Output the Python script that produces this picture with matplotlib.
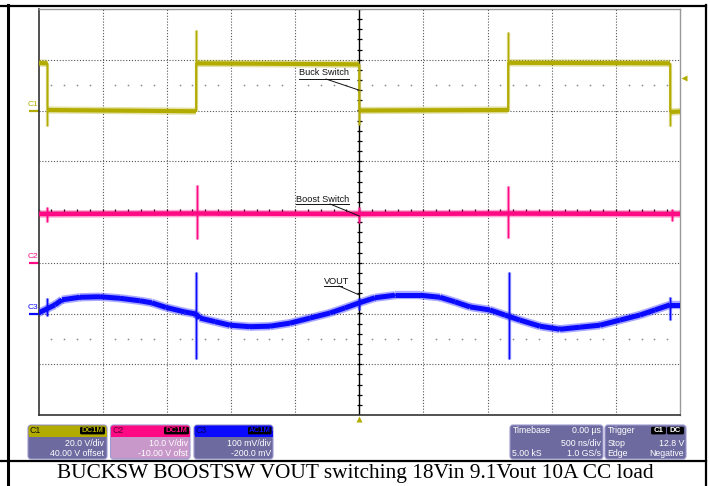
import matplotlib
matplotlib.use('Agg')
import matplotlib.pyplot as plt
from matplotlib.patches import FancyBboxPatch, Rectangle
from matplotlib.collections import LineCollection
import numpy as np

plt.rcParams['font.family'] = ['Liberation Sans', 'DejaVu Sans']

# scope settings
T_DIV = 0.5                       # us per division
C1_SCALE, C1_POS = 20.0, 2.0      # V/div, ground position (div)
C2_SCALE, C2_POS = 10.0, -1.0     # V/div
C3_SCALE, C3_POS = 100.0, -2.0    # mV/div
TRIG_LEVEL = 12.8                 # V on C1

COL_C1 = '#b3ac00'
COL_C2 = '#ff0a84'
COL_C3 = '#0a0aff'

# C1 - buck switch node (V)
c1_t = [-2.5, -2.430, -2.430, -1.273, -1.273, 0.0, 0.0, 1.159, 1.159, 2.422, 2.422, 2.5]
c1_v = [18.7, 18.6, 0.2, -0.3, 18.6, 18.2, 0.0, 0.2, 18.8, 18.6, -0.6, -0.4]
c1_spike_t = [-2.430, -1.273, 0.0, 1.159, 2.422]
c1_spike_lo = [-6.1, 0.0, -5.7, 0.0, -6.0]
c1_spike_hi = [18.6, 31.7, 18.2, 31.0, 18.6]

# C2 - boost switch node (V)
c2_t = [-2.5, -1.27, 0.0, 1.16, 2.5]
c2_v = [9.6, 9.7, 9.6, 9.7, 9.6]
c2_spike_t = [-2.434, -1.267, 0.0, 1.159, 2.437]
c2_spike_lo = [8.0, 4.7, 7.8, 4.8, 8.2]
c2_spike_hi = [11.0, 15.3, 11.0, 15.2, 10.5]

# C3 - VOUT ripple (mV, AC coupled)
c3_t = [-2.5, -2.372, -2.317, -2.177, -2.021, -1.865, -1.709, -1.616, -1.507,
        -1.359, -1.273, -1.242, -1.125, -1.008, -0.852, -0.696, -0.540, -0.384,
        -0.228, -0.111, 0.0, 0.122, 0.278, 0.473, 0.629, 0.746, 0.863, 1.018,
        1.135, 1.252, 1.408, 1.564, 1.720, 1.876, 2.032, 2.188, 2.305, 2.422, 2.5]
c3_v = [1, 17, 27, 32, 33, 30, 25, 21, 12,
        3, -1, -9, -16, -23, -26, -25, -19, -9,
        1, 11, 21, 31, 36, 36, 32, 23, 13, 7,
        -3, -13, -25, -31, -27, -23, -13, -3, 7, 17, 17]
c3_spike_t = [-2.434, -1.273, 0.0, 1.166, 2.422]
c3_spike_lo = [-4, -90, 7, -90, -13]
c3_spike_hi = [31, 82, 31, 82, 33]

# annotations: text, text pos, underline end, leader start, leader end (t, div)
labels = [
    ('Buck Switch', (-0.470, 2.74), -0.080, (-0.259, 2.62), (0.0, 2.40)),
    ('Boost Switch', (-0.496, 0.256), -0.080, (-0.228, 0.158), (0.0, -0.079)),
    ('VOUT', (-0.275, -1.373), -0.135, (-0.158, -1.458), (0.0, -1.635)),
]

caption = 'BUCKSW BOOSTSW VOUT switching 18Vin 9.1Vout 10A CC load'

W, H = 710, 486
fig = plt.figure(figsize=(W / 100, H / 100), dpi=100)
fig.patch.set_facecolor('white')

# overlay in pixel coordinates
ov = fig.add_axes([0, 0, 1, 1], zorder=0)
ov.set_xlim(0, W)
ov.set_ylim(H, 0)
ov.axis('off')

ax = fig.add_axes([38.5 / W, 1 - 415 / H, (680 - 38.5) / W, (415 - 9) / H], zorder=1)
ax.set_xlim(-5 * T_DIV, 5 * T_DIV)
ax.set_ylim(-4, 4)
ax.set_xticks([])
ax.set_yticks([])
for s in ['left', 'bottom']:
    ax.spines[s].set_color('#333333')
    ax.spines[s].set_linewidth(1.2)
for s in ['top', 'right']:
    ax.spines[s].set_color('#999999')
    ax.spines[s].set_linewidth(1.0)

# grid
for k in range(1, 10):
    if k != 5:
        ax.axvline(-2.5 + k * T_DIV, color='#555555', lw=0.8, ls=(0, (1, 1.6)), zorder=1)
for k in range(1, 8):
    if k != 4:
        ax.axhline(-4 + k, color='#555555', lw=0.8, ls=(0, (1, 1.6)), zorder=1)
ax.axvline(0, color='black', lw=1.0, zorder=1)
ax.axhline(0, color='black', lw=1.0, zorder=1)
yt = np.arange(-4, 4.01, 0.2)
ax.hlines(yt, -0.02, 0.02, color='black', lw=0.9, zorder=1)
xt = np.arange(-2.5, 2.51, 0.1)
ax.vlines(xt, -0.05, 0.05, color='black', lw=0.9, zorder=1)
dot_t = [t for i, t in enumerate(xt) if i % 5 != 0]
for yy in (2.5, -2.5):
    ax.plot(dot_t, [yy] * len(dot_t), ls='none', marker='s', ms=1.1,
            mfc='#888888', mec='none', zorder=1)


def draw_trace(t, v, scale, pos, color, lw_core, lw_fringe):
    y = np.asarray(v, float) / scale + pos
    t = np.asarray(t, float)
    pts = np.column_stack([t, y])
    segs = [pts[i:i + 2] for i in range(len(pts) - 1) if t[i] != t[i + 1]]
    ax.add_collection(LineCollection(segs, colors=color, linewidths=lw_fringe,
                                     alpha=0.35, zorder=3, capstyle='butt'))
    ax.add_collection(LineCollection(segs, colors=color, linewidths=lw_core,
                                     zorder=3, capstyle='butt'))
    ax.plot(t, y, color=color, lw=1.1, zorder=3)


def draw_spikes(t, lo, hi, scale, pos, color):
    ax.vlines(t, np.asarray(lo) / scale + pos, np.asarray(hi) / scale + pos,
              color=color, lw=2.4, alpha=0.4, zorder=3)
    ax.vlines(t, np.asarray(lo) / scale + pos, np.asarray(hi) / scale + pos,
              color=color, lw=1.0, zorder=3)


draw_trace(c1_t, c1_v, C1_SCALE, C1_POS, COL_C1, 3.0, 5.2)
draw_spikes(c1_spike_t, c1_spike_lo, c1_spike_hi, C1_SCALE, C1_POS, COL_C1)
draw_trace(c2_t, c2_v, C2_SCALE, C2_POS, COL_C2, 3.2, 5.4)
draw_spikes(c2_spike_t, c2_spike_lo, c2_spike_hi, C2_SCALE, C2_POS, COL_C2)
draw_trace(c3_t, c3_v, C3_SCALE, C3_POS, COL_C3, 3.6, 6.0)
draw_spikes(c3_spike_t, c3_spike_lo, c3_spike_hi, C3_SCALE, C3_POS, COL_C3)

# annotations
for text, (tx, ty), u_end, l0, l1 in labels:
    ax.text(tx, ty, text, fontsize=6.6, color='#111111', ha='left', va='center', zorder=5)
    ax.plot([tx, u_end], [l0[1], l0[1]], color='#111111', lw=0.7, zorder=5)
    ax.plot([l0[0], l1[0]], [l0[1], l1[1]], color='#111111', lw=0.7, zorder=5)

# ground markers, placed through the scope's own y scale
px_t = T_DIV / 64.15
px_y = 1 / 50.75
to_px = ax.transData + ov.transData.inverted()
for name, pos, col in (('C1', C1_POS, COL_C1), ('C2', C2_POS, COL_C2), ('C3', C3_POS, COL_C3)):
    fig.canvas.draw()
    gx, gy = to_px.transform((-2.5, pos))
    ov.plot([gx - 9.5, gx], [gy, gy], color=col, lw=1.6, solid_capstyle='butt')
    ov.text(gx - 10.5, gy - 2.5, name, color=col, fontsize=6, rotation=0,
            ha='left', va='bottom')

# trigger markers
ax.plot([2.5 + 4 * px_t], [TRIG_LEVEL / C1_SCALE + C1_POS], marker='<', ms=5,
        color=COL_C1, mec='none', clip_on=False, zorder=6)
ax.plot([0], [-4 - 4 * px_y], marker='^', ms=5, color=COL_C1, mec='none',
        clip_on=False, zorder=6)

# LeCroy logo
ov.text(656.5, 16, 'LeCroy', fontsize=9, color='#555555', ha='center', va='center')
ov.plot([635, 678], [22, 22], color='#555555', lw=0.9)

# page borders
ov.plot([0, 706], [5.7, 5.7], color='black', lw=1.6)
ov.plot([7.5, 7.5], [5, H], color='black', lw=2.2)
ov.plot([705.5, 705.5], [5, H], color='black', lw=1.6)
ov.plot([0, 706], [460.5, 460.5], color='black', lw=1.6)
ov.text(355, 473.5, caption, family='Liberation Serif', fontsize=15.4,
        ha='center', va='center', color='black')

BODY = '#6d6a9f'
BODY_C2 = '#c798c9'


def info_box(x0, x1, head_col, body_col):
    y0, y1 = 425, 459
    ov.add_patch(FancyBboxPatch((x0, y0), x1 - x0, y1 - y0,
                                boxstyle='round,pad=0,rounding_size=3',
                                fc=body_col, ec='#9d9ad0', lw=0.8))
    if head_col is not None:
        ov.add_patch(FancyBboxPatch((x0 + 0.5, y0 + 0.5), x1 - x0 - 1, 11,
                                    boxstyle='round,pad=0,rounding_size=2.5',
                                    fc=head_col, ec='none'))
        ov.add_patch(Rectangle((x0 + 0.5, y0 + 6), x1 - x0 - 1, 6, fc=head_col, ec='none'))


def badge(x0, x1, text, col):
    ov.add_patch(FancyBboxPatch((x0, 426.8), x1 - x0, 7.6,
                                boxstyle='round,pad=0,rounding_size=1.5',
                                fc='black', ec='none'))
    ov.text((x0 + x1) / 2, 430.8, text, fontsize=5.6, color=col,
            ha='center', va='center', fontweight='bold')


txt = dict(fontsize=6.3, color='white', va='center')

# channel boxes
info_box(28, 107, COL_C1, BODY)
ov.text(30, 430.5, 'C1', fontsize=6.3, color='#111111', va='center')
badge(80, 105, 'DC1M', COL_C1)
ov.text(104, 443, '20.0 V/div', ha='right', **txt)
ov.text(104, 453, '40.00 V offset', ha='right', **txt)

info_box(110.5, 190, COL_C2, BODY_C2)
ov.text(112.5, 430.5, 'C2', fontsize=6.3, color='#5a0030', va='center')
badge(164, 189, 'DC1M', COL_C2)
ov.text(188, 443, '10.0 V/div', ha='right', **txt)
ov.text(188, 453, '-10.00 V ofst', ha='right', **txt)

info_box(194, 273, COL_C3, BODY)
ov.text(196, 430.5, 'C3', fontsize=6.3, color='#00005a', va='center')
badge(248, 271.5, 'AC1M', COL_C3)
ov.text(271, 443, '100 mV/div', ha='right', **txt)
ov.text(271, 453, '-200.0 mV', ha='right', **txt)

# timebase box
info_box(510, 603, None, BODY)
ov.text(512.5, 430.5, 'Timebase', ha='left', **txt)
ov.text(601, 430.5, '0.00 \u00b5s', ha='right', **txt)
ov.text(601, 443, '500 ns/div', ha='right', **txt)
ov.text(512.5, 453, '5.00 kS', ha='left', **txt)
ov.text(601, 453, '1.0 GS/s', ha='right', **txt)

# trigger box
info_box(605, 686, None, BODY)
ov.text(607.5, 430.5, 'Trigger', ha='left', **txt)
badge(651, 666, 'C1', 'white')
badge(667, 684, 'DC', 'white')
ov.text(607.5, 443, 'Stop', ha='left', **txt)
ov.text(684, 443, '12.8 V', ha='right', **txt)
ov.text(607.5, 453, 'Edge', ha='left', **txt)
ov.text(684, 453, 'Negative', ha='right', **txt)

fig.savefig('out.png', dpi=100)
